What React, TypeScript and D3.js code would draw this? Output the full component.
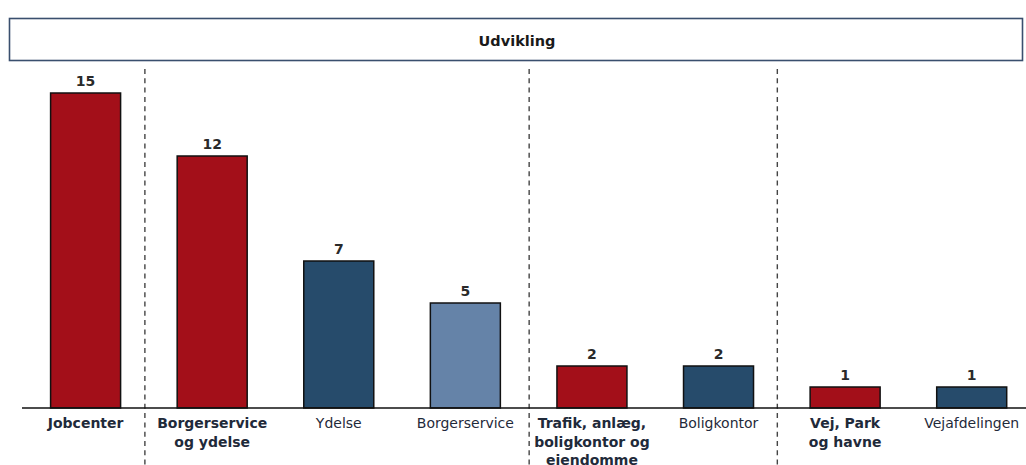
import React from "react";
import * as d3 from "d3";

const categories = [
  "Jobcenter",
  "Borgerservice\nog ydelse",
  "Ydelse",
  "Borgerservice",
  "Trafik, anlæg,\nboligkontor og\nejendomme",
  "Boligkontor",
  "Vej, Park\nog havne",
  "Vejafdelingen",
];
const values = [15, 12, 7, 5, 2, 2, 1, 1];
// 0 = unit total (red), 1 = sub-unit (dark blue), 2 = sub-sub-unit (light blue)
const levels = [0, 0, 1, 2, 0, 1, 0, 1];
const boldLabel = [true, true, false, false, true, false, true, false];
// groups end after these category indices
const groupBreaks = [0, 3, 5];
const breakNudge = [-4, 0.5, -4.5];
const title = "Udvikling";

const W = 1026;
const H = 465;
const baseY = 408;
const FONT = "'DejaVu Sans', 'Noto Sans', sans-serif";
const levelColors = ["#a30f19", "#264b6b", "#6583a8"];

export default function App() {
  const x = d3
    .scaleBand<number>()
    .domain(d3.range(categories.length))
    .range([22.3, 1035])
    .paddingInner(0.447)
    .paddingOuter(0.2235);
  const y = d3.scaleLinear().domain([0, 15]).range([baseY, 93]);
  const bw = x.bandwidth();

  return (
    <svg
      width={W}
      height={H}
      style={{ position: "absolute", left: 0, top: 0, background: "#fff" }}
      fontFamily={FONT}
    >
      <rect x={9.5} y={18.5} width={1013} height={42} fill="#fff" stroke="#3a4f6e" strokeWidth={1.6} />
      <text x={517} y={46} textAnchor="middle" fontWeight={700} fontSize={14.5} fill="#1a1a1a">
        {title}
      </text>

      {groupBreaks.map((i, k) => {
        const gx = (x(i)! + bw / 2 + x(i + 1)! + bw / 2) / 2 + breakNudge[k];
        return (
          <line
            key={"g" + i}
            x1={gx}
            x2={gx}
            y1={69}
            y2={H}
            stroke="#444"
            strokeWidth={1.4}
            strokeDasharray="5 4.3"
          />
        );
      })}

      {values.map((v, i) => (
        <g key={"b" + i}>
          <rect
            x={x(i)}
            y={y(v)}
            width={bw}
            height={baseY - y(v)}
            fill={levelColors[levels[i]]}
            stroke="#111"
            strokeWidth={1.5}
          />
          <text
            x={x(i)! + bw / 2}
            y={y(v) - 7}
            textAnchor="middle"
            fontWeight={700}
            fontSize={14}
            fill="#2a2a2a"
          >
            {v}
          </text>
        </g>
      ))}

      <line x1={22} x2={W} y1={baseY} y2={baseY} stroke="#111" strokeWidth={1.5} />

      {categories.map((c, i) => (
        <text
          key={"l" + i}
          x={x(i)! + bw / 2}
          textAnchor="middle"
          fontWeight={boldLabel[i] ? 700 : 400}
          fontSize={14}
          fill="#1f2a3a"
        >
          {c.split("\n").map((line, k) => (
            <tspan key={k} x={x(i)! + bw / 2} y={428 + k * 18.5}>
              {line}
            </tspan>
          ))}
        </text>
      ))}
    </svg>
  );
}
